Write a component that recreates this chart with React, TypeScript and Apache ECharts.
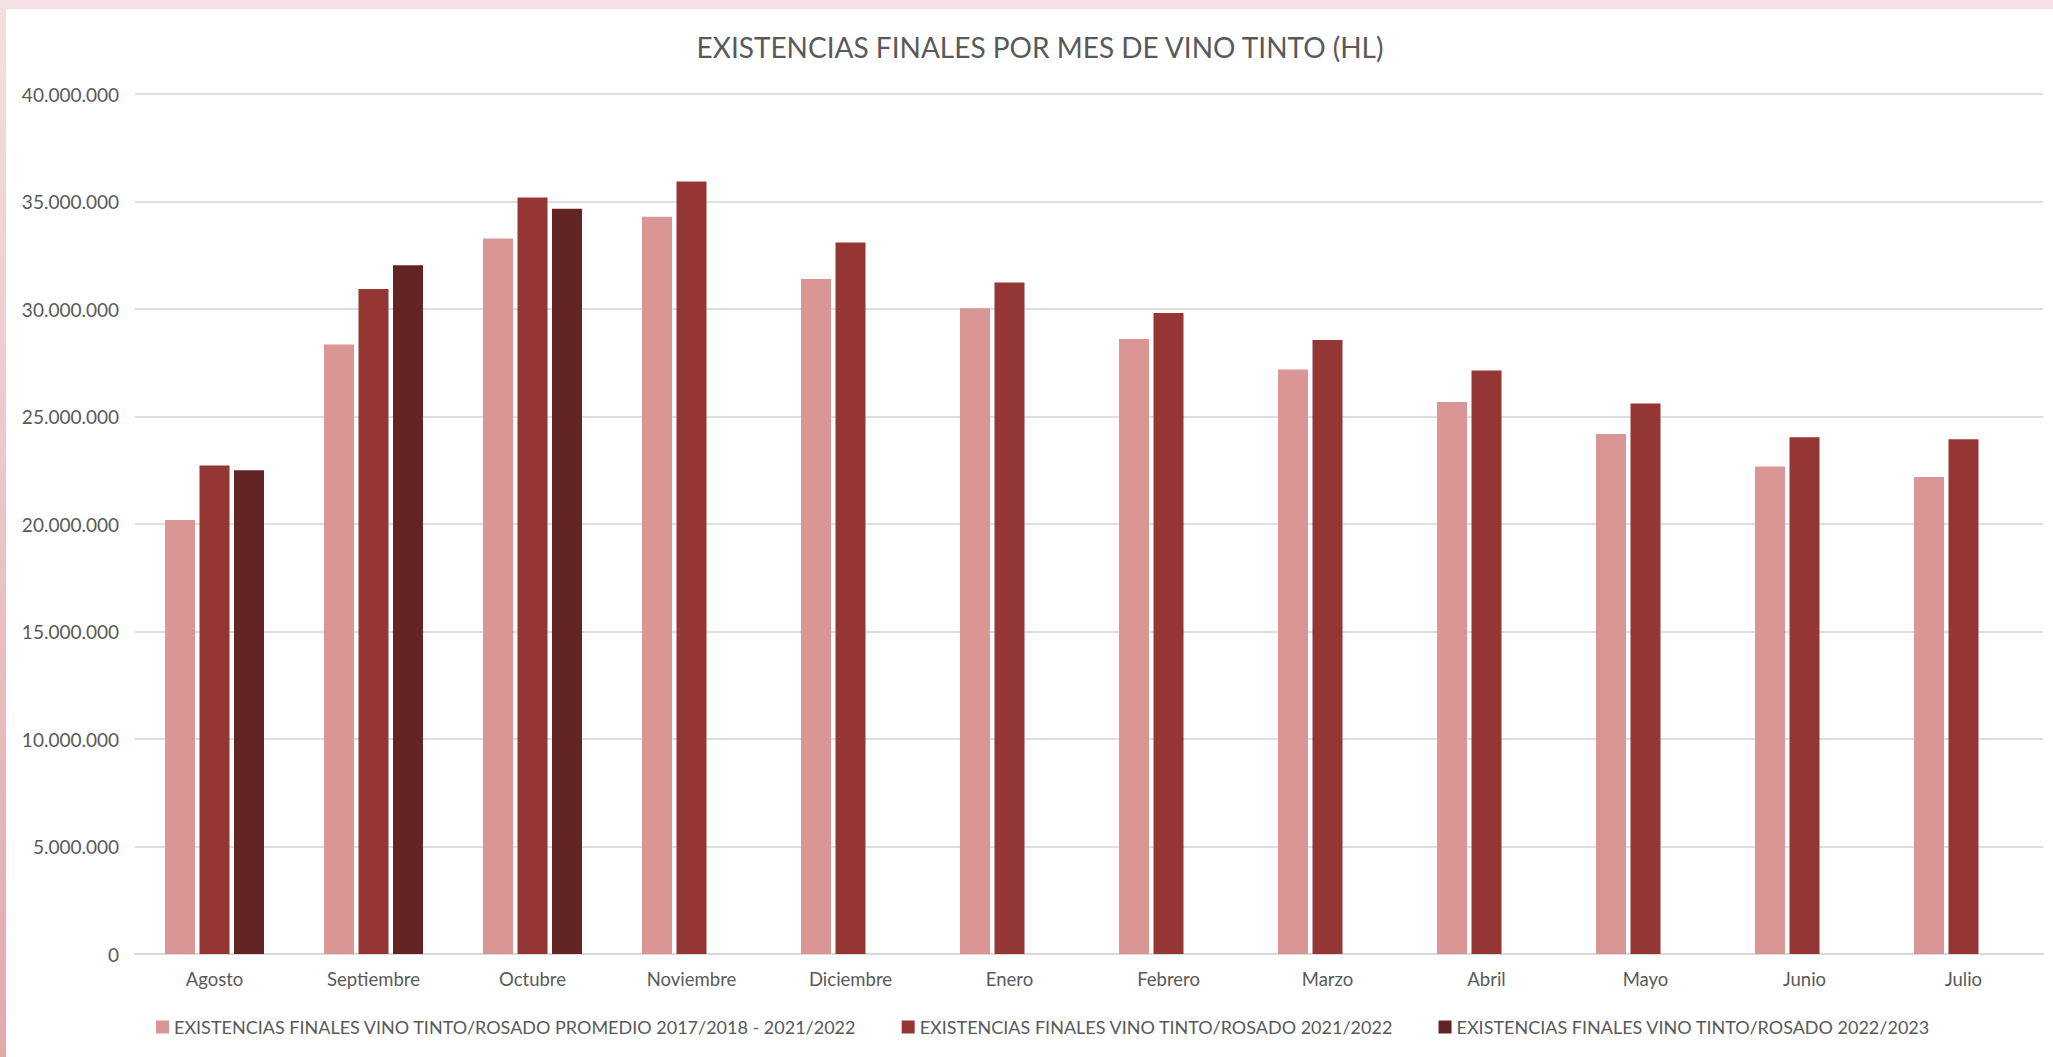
import React, { useEffect, useRef } from "react";
import * as echarts from "echarts";

const months = ["Agosto", "Septiembre", "Octubre", "Noviembre", "Diciembre", "Enero", "Febrero", "Marzo", "Abril", "Mayo", "Junio", "Julio"];

const seriesNames = [
  "EXISTENCIAS FINALES VINO TINTO/ROSADO PROMEDIO 2017/2018 - 2021/2022",
  "EXISTENCIAS FINALES VINO TINTO/ROSADO 2021/2022",
  "EXISTENCIAS FINALES VINO TINTO/ROSADO 2022/2023",
];

const promedio = [20190000, 28350000, 33280000, 34290000, 31400000, 30030000, 28600000, 27190000, 25680000, 24190000, 22670000, 22190000];
const campana2122 = [22720000, 30930000, 35190000, 35930000, 33090000, 31230000, 29810000, 28560000, 27140000, 25610000, 24040000, 23940000];
const campana2223 = [22500000, 32030000, 34660000, null, null, null, null, null, null, null, null, null];

const colors = ["#D99694", "#943634", "#632523"];
const yTicks = { min: 0, max: 40000000, interval: 5000000 };

const FONT = "Lato, 'Open Sans', sans-serif";
const TEXT = "#595959";

function fmt(v: number): string {
  return String(Math.round(v)).replace(/\B(?=(\d{3})+(?!\d))/g, ".");
}

export default function App() {
  const ref = useRef<HTMLDivElement>(null);
  useEffect(() => {
    if (!ref.current) return;
    const chart = echarts.init(ref.current, null, { renderer: "svg" });
    const data = [promedio, campana2122, campana2223];
    chart.setOption({
      animation: false,
      backgroundColor: "#ffffff",
      textStyle: { fontFamily: FONT },
      title: {
        text: "EXISTENCIAS FINALES POR MES DE VINO TINTO (HL)",
        left: 1029,
        textAlign: "center",
        top: 19,
        textStyle: { fontFamily: FONT, fontSize: 28, fontWeight: "normal", color: TEXT },
      },
      legend: {
        left: 145,
        top: 1004,
        itemWidth: 13,
        itemHeight: 13,
        itemGap: 45,
        icon: "rect",
        textStyle: { fontFamily: FONT, fontSize: 18, color: TEXT },
        data: seriesNames,
      },
      grid: { left: 129, right: 10, top: 85, bottom: 103 },
      xAxis: {
        type: "category",
        data: months,
        axisLine: { lineStyle: { color: "#d9d9d9", width: 2 } },
        axisTick: { show: false },
        axisLabel: { color: TEXT, fontFamily: FONT, fontSize: 18.5, margin: 15 },
      },
      yAxis: {
        type: "value",
        min: yTicks.min,
        max: yTicks.max,
        interval: yTicks.interval,
        axisLine: { show: false },
        axisTick: { show: false },
        splitLine: { lineStyle: { color: "#dedede", width: 2 } },
        axisLabel: { color: TEXT, fontFamily: FONT, fontSize: 19, margin: 16, formatter: (v: number) => fmt(v) },
      },
      series: seriesNames.map((name, i) => ({
        name,
        type: "bar",
        data: data[i].map((v) => (v == null ? "-" : v)),
        barWidth: 30,
        barGap: "15%",
        itemStyle: { color: colors[i] },
      })),
    });
    return () => chart.dispose();
  }, []);

  return (
    <div style={{ position: "absolute", left: 0, top: 0, width: 2053, height: 1057, background: "#f6e2e3", overflow: "hidden" }}>
      <div style={{ position: "absolute", left: 0, top: 9, width: 6, height: 1048, background: "linear-gradient(#f4dfe0, #e2a9ab)" }} />
      <div style={{ position: "absolute", left: 6, top: 9, width: 2047, height: 1048, background: "#fff", boxShadow: "inset 1px 1px 0 #dcdcdc" }}>
        <div ref={ref} style={{ width: 2047, height: 1048 }} />
      </div>
    </div>
  );
}
